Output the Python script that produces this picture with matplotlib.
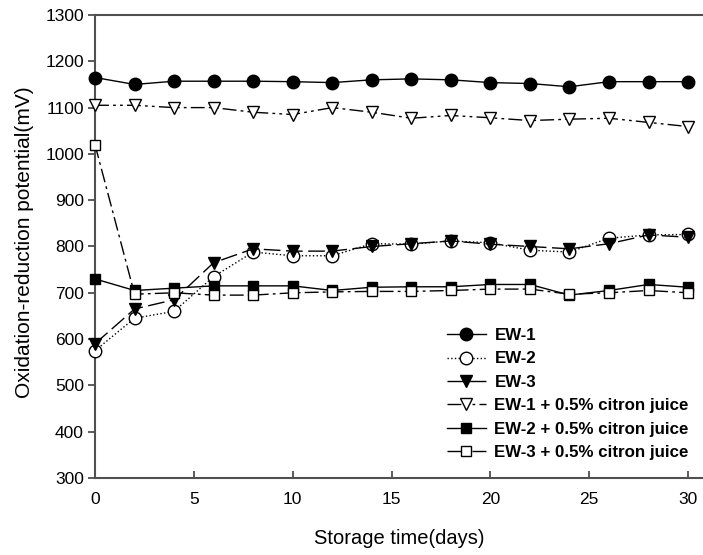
import numpy as np
import matplotlib
matplotlib.use("Agg")
import matplotlib.pyplot as plt

plt.rcParams['font.family'] = ['Liberation Sans', 'DejaVu Sans']

days = [0, 2, 4, 6, 8, 10, 12, 14, 16, 18, 20, 22, 24, 26, 28, 30]

ew1 = [1165, 1150, 1157, 1157, 1157, 1156, 1154, 1160, 1162, 1160, 1154, 1152, 1145, 1156, 1156, 1156]
ew2 = [575, 645, 660, 735, 788, 780, 780, 806, 805, 812, 808, 792, 788, 818, 825, 826]
ew3 = [590, 665, 685, 765, 795, 790, 790, 800, 806, 812, 805, 800, 795, 806, 825, 820]
ew1_cj = [1105, 1105, 1100, 1100, 1090, 1085, 1100, 1090, 1077, 1083, 1078, 1072, 1075, 1077, 1068, 1059]
ew2_cj = [730, 705, 710, 715, 715, 715, 705, 712, 713, 713, 718, 718, 695, 705, 718, 712]
ew3_cj = [1020, 697, 700, 695, 695, 700, 702, 703, 703, 705, 708, 708, 697, 700, 705, 700]

labels = ['EW-1', 'EW-2', 'EW-3',
          'EW-1 + 0.5% citron juice',
          'EW-2 + 0.5% citron juice',
          'EW-3 + 0.5% citron juice']

fig = plt.figure(figsize=(7.03, 5.55), dpi=100)
ax = fig.add_axes([95 / 703, 77 / 555, 608 / 703, 463 / 555])

dashdot = (0, (10, 3, 2, 3))
dashdotdot = (0, (10, 3, 2, 3, 2, 3))

styles = [
    dict(ls='-', marker='o', mfc='black', ms=9),
    dict(ls=':', marker='o', mfc='white', ms=9),
    dict(ls=(0, (12, 4)), marker='v', mfc='black', ms=9),
    dict(ls=dashdotdot, marker='v', mfc='white', ms=9),
    dict(ls='-', marker='s', mfc='black', ms=7.5),
    dict(ls=dashdot, marker='s', mfc='white', ms=7.5),
]

for y, lab, st in zip([ew1, ew2, ew3, ew1_cj, ew2_cj, ew3_cj], labels, styles):
    ax.plot(days, y, color='black', lw=1.0, mec='black', mew=1.0,
            label=lab, clip_on=False, zorder=3, **st)

ax.set_xlim(0, 608 / 19.77)
ax.set_ylim(300, 1300)
ax.set_xticks([0, 5, 10, 15, 20, 25, 30])
ax.set_yticks(np.arange(300, 1301, 100))
ax.tick_params(axis='x', direction='in', length=5, width=1.2, color='#404040',
               labelsize=12.5, pad=10)
ax.tick_params(axis='y', direction='out', length=5, width=1.2, color='#404040',
               labelsize=12.5, pad=3)

for side in ['left', 'bottom', 'top']:
    ax.spines[side].set_color('#505050')
    ax.spines[side].set_linewidth(1.5)
ax.spines['right'].set_visible(False)

ax.set_xlabel('Storage time(days)', fontsize=14.5, labelpad=16)
ax.set_ylabel('Oxidation-reduction potential(mV)', fontsize=15, labelpad=6)
ax.yaxis.set_label_coords(-70 / 608, 0.51)
ax.yaxis.label.set_va('center')

leg = ax.legend(loc='upper left', bbox_to_anchor=(447 / 703, 1 - 328 / 555),
                bbox_transform=fig.transFigure, frameon=False,
                prop={'weight': 'bold', 'size': 12.2}, handlelength=2.3,
                handletextpad=0.5, labelspacing=0.5, borderpad=0, borderaxespad=0)

fig.savefig('out.png', dpi=100)
